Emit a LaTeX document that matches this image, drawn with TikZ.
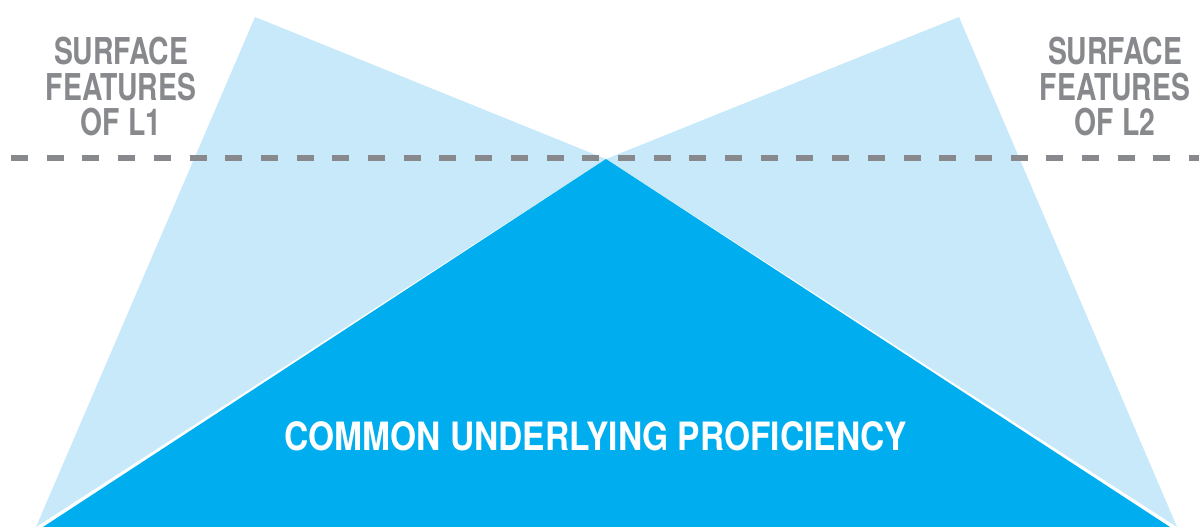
\documentclass[tikz,border=0pt]{standalone}
\usepackage{fontspec}
\setmainfont{TeX Gyre Heros}
\newfontfamily\surfacefont[FakeStretch=0.765]{TeX Gyre Heros}
\newfontfamily\cupfont[FakeStretch=0.86]{TeX Gyre Heros}
\definecolor{lightsky}{HTML}{C7E9F9}
\definecolor{cupblue}{HTML}{00AEEF}
\definecolor{featgray}{HTML}{88898C}
\begin{document}
\begin{tikzpicture}[x=1pt,y=-1pt,
    surfacelabel/.style={anchor=north,inner sep=0pt,align=center,text=featgray,font=\surfacefont\bfseries\fontsize{37}{35.5}\selectfont},
    cuplabel/.style={anchor=base,inner sep=0pt,text=white,font=\cupfont\bfseries\fontsize{39}{39}\selectfont}]
    \useasboundingbox (0,0) rectangle (1199,527);
    \coordinate (apex) at (606,159);
    \coordinate (topL1) at (255,17);
    \coordinate (baseL1) at (36,527);
    \coordinate (topL2) at (959,17);
    \coordinate (baseL2) at (1177,527);
    \coordinate (cupL) at (43,527);
    \coordinate (cupR) at (1170,527);
    % the two surface triangles
    \fill[lightsky] (topL1) -- (apex) -- (baseL1) -- cycle;
    \fill[lightsky] (topL2) -- (apex) -- (baseL2) -- cycle;
    % common underlying proficiency
    \fill[cupblue] (apex) -- (cupL) -- (cupR) -- cycle;
    % waterline
    \coordinate (lineA) at (11,158);
    \coordinate (lineB) at (1199,158);
    \draw[featgray,line width=6pt,dash pattern=on 17pt off 18.7pt] (lineA) -- (lineB);
    \node(surfaceL1) [surfacelabel] at (121,37) {SURFACE\\FEATURES\\OF L1};
    \node(surfaceL2) [surfacelabel] at (1115,37) {SURFACE\\FEATURES\\OF L2};
    \node(cup) [cuplabel] at (596,450) {COMMON UNDERLYING PROFICIENCY};
\end{tikzpicture}
\end{document}
